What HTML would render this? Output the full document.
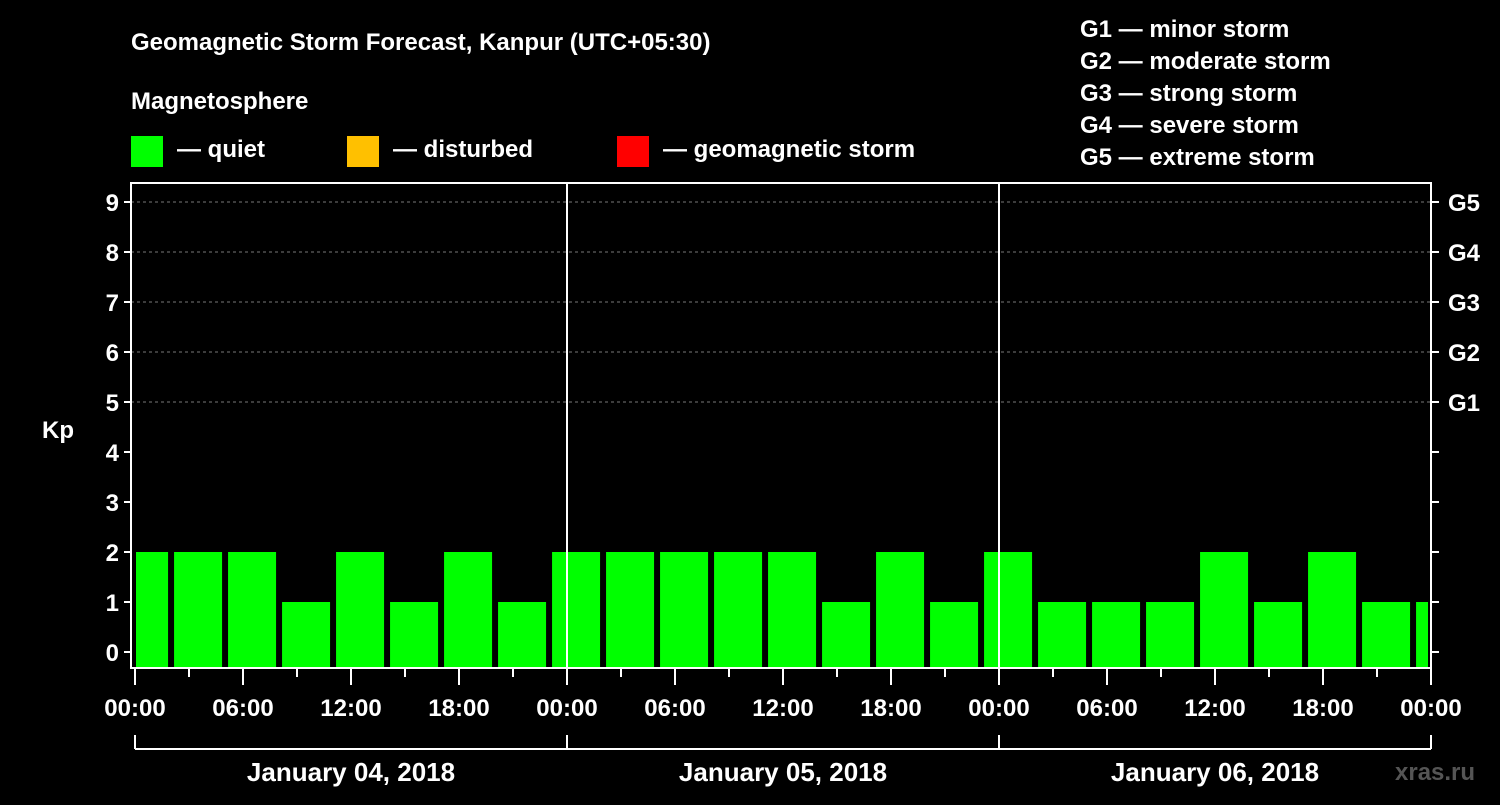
<!DOCTYPE html>
<html><head><meta charset="utf-8"><style>
body{margin:0;background:#000;width:1500px;height:800px;overflow:hidden}
svg text{font-family:"Liberation Sans",Arial,sans-serif;font-weight:bold;fill:#fff}
</style></head><body>
<svg id="c" width="1500" height="800" xmlns="http://www.w3.org/2000/svg">
<text x="131" y="50" font-size="24">Geomagnetic Storm Forecast, Kanpur (UTC+05:30)</text>
<text x="131" y="109" font-size="24">Magnetosphere</text>
<rect x="131" y="136" width="32" height="31" fill="#00ff00"/>
<text x="177" y="157" font-size="24">— quiet</text>
<rect x="347" y="136" width="32" height="31" fill="#ffc000"/>
<text x="393" y="157" font-size="24">— disturbed</text>
<rect x="617" y="136" width="32" height="31" fill="#ff0000"/>
<text x="663" y="157" font-size="24">— geomagnetic storm</text>
<g font-size="24">
<text x="1080" y="37">G1 — minor storm</text>
<text x="1080" y="69">G2 — moderate storm</text>
<text x="1080" y="101">G3 — strong storm</text>
<text x="1080" y="133">G4 — severe storm</text>
<text x="1080" y="165">G5 — extreme storm</text>
</g>
<text x="42" y="438" font-size="24">Kp</text>
<text x="1395" y="780" font-size="24" fill="#555" style="fill:#555">xras.ru</text>
<g id="plot"></g>
</svg>
<script>
const kpValues=[2,2,2,1,2,1,2,1,2,2,2,2,2,1,2,1,2,1,1,1,2,1,2,1,1];
const yTicks=[0,1,2,3,4,5,6,7,8,9];
const gLabels=["G1","G2","G3","G4","G5"];
const gLevels=[5,6,7,8,9];
const timeLabels=["00:00","06:00","12:00","18:00"];
const dayLabels=["January 04, 2018","January 05, 2018","January 06, 2018"];
const firstBarHour=-0.83;
const NS="http://www.w3.org/2000/svg";
const X0=135,PXH=18,L=131,R=1431,T=183,B=668;
const x=h=>X0+h*PXH;
const y=v=>652-v*50;
const g=document.getElementById('plot');
function mk(t,a){const e=document.createElementNS(NS,t);for(const k in a)e.setAttribute(k,a[k]);g.appendChild(e);return e;}
// gridlines
yTicks.forEach(v=>{if(v>=5){const l=mk('line',{x1:L,x2:R,y1:y(v),y2:y(v),stroke:'#777','stroke-dasharray':'3,3'});

}});
// bars
kpValues.forEach((v,i)=>{let h0=firstBarHour+3*i;let x1=Math.max(x(h0),L+5);let x2=Math.min(x(h0+2.667),R-3);
const r=mk('rect',{x:x1,y:y(v),width:x2-x1,height:667-y(v),fill:'#00ff00'});

});
// day separators
for(let d=1;d<3;d++){const l=mk('line',{x1:x(24*d),x2:x(24*d),y1:T,y2:B,stroke:'#fff','stroke-width':2});

}
// frame
const f=mk('rect',{x:L,y:T,width:R-L,height:B-T,fill:'none',stroke:'#fff','stroke-width':2});


// y ticks
yTicks.forEach(v=>{mk('line',{x1:L-7,x2:L,y1:y(v),y2:y(v),stroke:'#fff','stroke-width':2});
mk('line',{x1:R,x2:R+8,y1:y(v),y2:y(v),stroke:'#fff','stroke-width':2});
const t=mk('text',{x:L-12,y:y(v)+9,'font-size':24,'text-anchor':'end'});t.textContent=v;

});
gLabels.forEach((s,i)=>{const t=mk('text',{x:1448,y:y(gLevels[i])+9,'font-size':24});t.textContent=s;

});
// x ticks
for(let h=0;h<=72;h+=3){const major=h%6===0;mk('line',{x1:x(h),x2:x(h),y1:B,y2:major?685:677,stroke:'#fff','stroke-width':2});}
for(let h=0;h<=72;h+=6){const t=mk('text',{x:x(h),y:716,'font-size':24,'text-anchor':'middle'});t.textContent=timeLabels[(h/6)%4];

}
// day bracket
mk('line',{x1:x(0),x2:x(72),y1:749,y2:749,stroke:'#fff','stroke-width':2});
for(let d=0;d<=3;d++)mk('line',{x1:x(24*d),x2:x(24*d),y1:735,y2:749,stroke:'#fff','stroke-width':2});
dayLabels.forEach((s,i)=>{const t=mk('text',{x:x(24*i+12),y:781,'font-size':26,'text-anchor':'middle'});t.textContent=s;

});
</script>
</body></html>
